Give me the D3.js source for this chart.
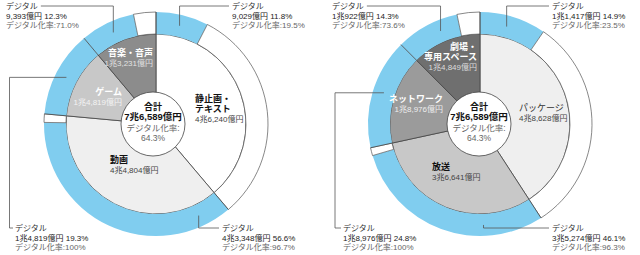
<!DOCTYPE html>
<html>
<head>
<meta charset="utf-8">
<script src="https://cdn.jsdelivr.net/npm/d3@7"></script>
<style>
  body { margin: 0; background: #fff; }
  svg { display: block; font-family: "Liberation Sans", "Noto Sans CJK JP", sans-serif; }
</style>
</head>
<body>
<svg width="640" height="255"></svg>
<script>
// data: left chart (by content type), right chart (by media)
var leftCats = [["静止画・", "テキスト"], ["動画"], ["ゲーム"], ["音楽・音声"]];
var leftTotal = [46240, 44804, 14819, 13231];
var leftDigital = [9029, 43348, 14819, 9393];
var leftShare = ["11.8%", "56.6%", "19.3%", "12.3%"];
var leftRate = ["19.5%", "96.7%", "100%", "71.0%"];

var rightCats = [["パッケージ"], ["放送"], ["ネットワーク"], ["劇場・", "専用スペース"]];
var rightTotal = [48628, 36641, 18976, 14849];
var rightDigital = [11417, 35274, 18976, 10922];
var rightShare = ["14.9%", "46.1%", "24.8%", "14.3%"];
var rightRate = ["23.5%", "96.3%", "100%", "73.6%"];

var sumLabel = ["合計", "7兆6,589億円", "デジタル化率:", "64.3%"];

var svg = d3.select('svg');
var blue = '#80cdef';
var rHole = 32, rPie = 90, rOut = 112;

function yen(v) {
  var c = Math.floor(v / 10000), r = v % 10000;
  return (c ? c + '兆' : '') + d3.format(',')(r) + '億円';
}

var charts = [
  {
    cx: 156, cy: 124, hx: -3,
    cats: leftCats, total: leftTotal, digital: leftDigital, share: leftShare, rate: leftRate,
    fills: ['#ffffff', '#efefef', '#c8c8c8', '#8c8c8c'],
    nameCol: ['#111', '#111', '#fff', '#fff'],
    valCol: ['#444', '#444', '#f4f4f4', '#e2e2e2'],
    nameBold: [true, true, true, true],
    catPos: [
      { x: 195, y: 99, anchor: 'start' },
      { x: 110, y: 160, anchor: 'start' },
      { x: 122, y: 92, anchor: 'end' },
      { x: 153, y: 53, anchor: 'end' }
    ],
    labels: [
      { i: 3, side: 'tl', x: 6, y: 6, ang: 335 },
      { i: 0, side: 'tr', x: 232, y: 6, ang: 13.5 },
      { i: 2, side: 'bl', x: 15, y: 228, ang: 297.5, elbow: 9.5 },
      { i: 1, side: 'br', x: 222, y: 228, ang: 155 }
    ]
  },
  {
    cx: 480, cy: 124, hx: -1,
    cats: rightCats, total: rightTotal, digital: rightDigital, share: rightShare, rate: rightRate,
    fills: ['#efefef', '#c8c8c8', '#9b9b9b', '#6f6f6f'],
    nameCol: ['#333', '#111', '#fff', '#fff'],
    valCol: ['#444', '#444', '#eeeeee', '#dddddd'],
    nameBold: [false, true, true, true],
    catPos: [
      { x: 519, y: 108, anchor: 'start' },
      { x: 432, y: 167, anchor: 'start' },
      { x: 443, y: 99, anchor: 'end' },
      { x: 477, y: 47, anchor: 'end' }
    ],
    labels: [
      { i: 3, side: 'tl', x: 332, y: 6, ang: 337 },
      { i: 0, side: 'tr', x: 552, y: 6, ang: 15.3 },
      { i: 2, side: 'bl', x: 343, y: 228, ang: 288, elbow: 335 },
      { i: 1, side: 'br', x: 552, y: 228, ang: 178 }
    ]
  }
];

charts.forEach(function(c) {
  var g = svg.append('g').attr('transform', 'translate(' + c.cx + ',' + c.cy + ')');
  var pie = d3.pie().sort(null).value(function(d) { return d; });
  var slices = pie(c.total);

  // inner pie
  var arcPie = d3.arc().innerRadius(0).outerRadius(rPie);
  g.selectAll('path.slice')
    .data(slices)
    .enter().append('path')
    .attr('class', 'slice')
    .attr('d', arcPie)
    .attr('fill', function(d, i) { return c.fills[i]; })
    .attr('stroke', '#444')
    .attr('stroke-width', 0.8);

  // outer ring: digital part first, then the rest
  var ring = [];
  slices.forEach(function(s, i) {
    var mid = d3.scaleLinear().domain([0, c.total[i]]).range([s.startAngle, s.endAngle])(c.digital[i]);
    ring.push({ startAngle: s.startAngle, endAngle: mid, dig: true });
    if (mid < s.endAngle - 1e-6) ring.push({ startAngle: mid, endAngle: s.endAngle, dig: false });
  });
  var arcRing = d3.arc().innerRadius(rPie).outerRadius(rOut);
  g.selectAll('path.ring')
    .data(ring)
    .enter().append('path')
    .attr('class', 'ring')
    .attr('d', arcRing)
    .attr('fill', function(d) { return d.dig ? blue : '#fff'; })
    .attr('stroke', function(d) { return d.dig ? 'none' : '#555'; })
    .attr('stroke-width', 0.7);

  // radial boundaries across the ring
  g.selectAll('line.bound')
    .data(slices)
    .enter().append('line')
    .attr('class', 'bound')
    .attr('x1', function(d) { return rPie * Math.sin(d.startAngle); })
    .attr('y1', function(d) { return -rPie * Math.cos(d.startAngle); })
    .attr('x2', function(d) { return rOut * Math.sin(d.startAngle); })
    .attr('y2', function(d) { return -rOut * Math.cos(d.startAngle); })
    .attr('stroke', '#444')
    .attr('stroke-width', 0.8);

  // centre hole
  g.append('circle')
    .attr('cx', c.hx).attr('r', rHole)
    .attr('fill', '#fff').attr('stroke', '#444').attr('stroke-width', 0.8);

  var ct = g.append('text').attr('text-anchor', 'middle');
  [[-18, 9, 'bold', '#111'], [-7.5, 9.5, 'bold', '#111'], [3, 8.5, 'normal', '#666'], [13, 8.5, 'normal', '#666']]
    .forEach(function(p, k) {
      ct.append('tspan')
        .attr('x', c.hx).attr('y', p[0] + 3.5)
        .attr('font-size', p[1]).attr('font-weight', p[2]).attr('fill', p[3])
        .text(sumLabel[k]);
    });

  // category labels inside the pie
  c.catPos.forEach(function(p, i) {
    var t = svg.append('text').attr('text-anchor', p.anchor);
    c.cats[i].forEach(function(line, k) {
      t.append('tspan')
        .attr('x', p.x).attr('y', p.y + k * 10 + 3.3)
        .attr('font-size', 9)
        .attr('font-weight', c.nameBold[i] ? 'bold' : 'normal')
        .attr('fill', c.nameCol[i])
        .text(line);
    });
    t.append('tspan')
      .attr('x', p.x).attr('y', p.y + c.cats[i].length * 10 + 3.3 - 0.5)
      .attr('font-size', 8)
      .attr('fill', c.valCol[i])
      .text(yen(c.total[i]));
  });

  // digital callouts
  var rm = (rPie + rOut) / 2;
  c.labels.forEach(function(L) {
    var a = L.ang * Math.PI / 180;
    var ax = c.cx + rm * Math.sin(a), ay = c.cy - rm * Math.cos(a);
    var t = svg.append('text').attr('font-size', 8);
    var t1 = t.append('tspan').attr('x', L.x).attr('y', L.y + 3.2)
      .attr('fill', '#333').text('デジタル');
    t.append('tspan').attr('x', L.x).attr('y', L.y + 12.5)
      .attr('fill', '#222')
      .text(yen(c.digital[L.i]) + ' ' + c.share[L.i]);
    t.append('tspan').attr('x', L.x).attr('y', L.y + 22)
      .attr('fill', '#666')
      .text('デジタル化率:' + c.rate[L.i]);

    var pts;
    if (L.side === 'tl') {
      var end = L.x + t1.node().getComputedTextLength() + 3;
      pts = [[ax, ay], [ax, L.y], [end, L.y]];
    } else if (L.side === 'tr' || L.side === 'br') {
      pts = [[ax, ay], [ax, L.y], [L.x - 3, L.y]];
    } else {
      pts = [[ax, ay], [L.elbow, ay], [L.elbow, L.y], [L.x - 2, L.y]];
    }
    svg.append('path')
      .attr('d', d3.line()(pts))
      .attr('fill', 'none')
      .attr('stroke', '#555')
      .attr('stroke-width', 0.8);
  });
});
</script>
</body>
</html>
